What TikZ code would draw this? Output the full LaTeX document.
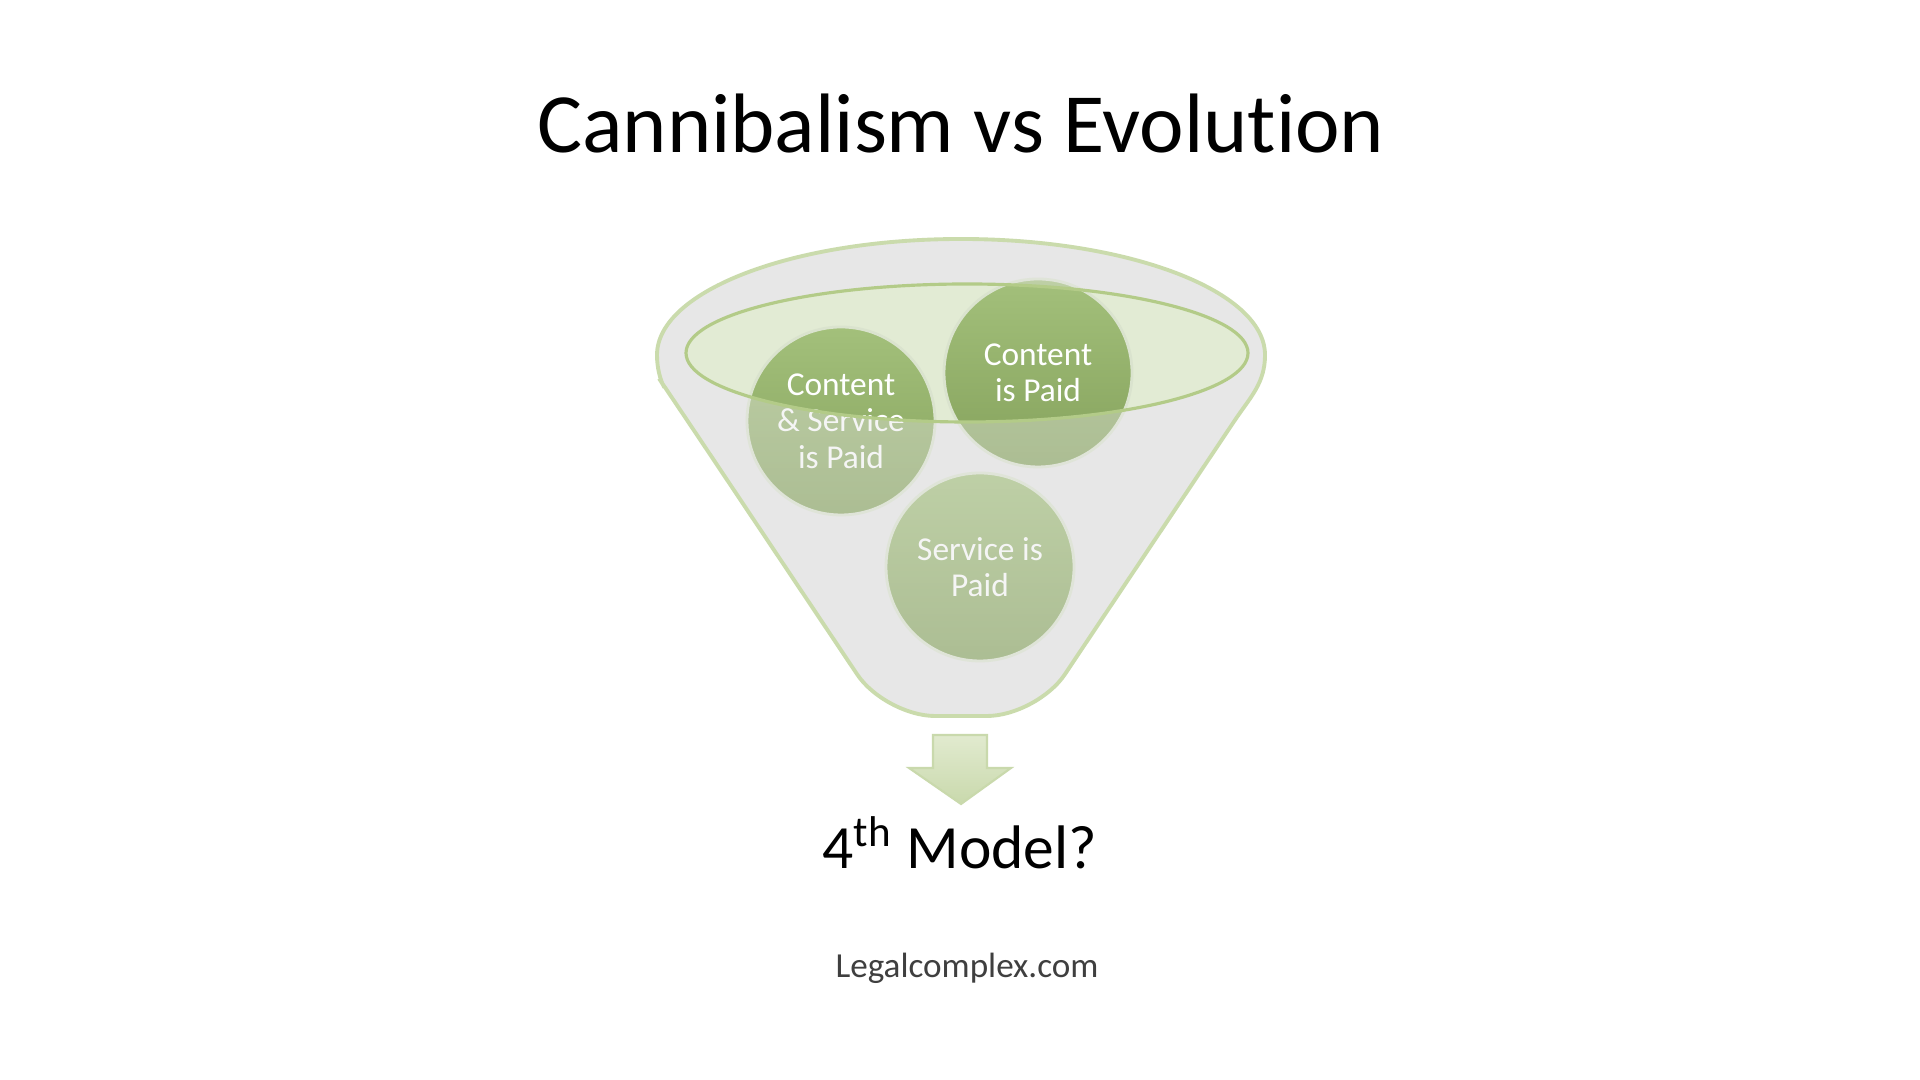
\documentclass[tikz,border=0pt]{standalone}
\usepackage{fontspec}
\setmainfont[Ligatures=NoCommon]{Carlito}
\usepackage{tikz}
\usetikzlibrary{positioning}

\definecolor{balltop}{HTML}{A3C07B}
\definecolor{ballgreen}{HTML}{85A25C}
\definecolor{mouthgreen}{HTML}{E2EBD4}
\definecolor{rimgreen}{HTML}{B3CB88}
\definecolor{glassgrey}{HTML}{E7E7E7}
\definecolor{arrowtop}{HTML}{E1EACF}
\definecolor{arrowbottom}{HTML}{C9D9AC}
\definecolor{sitegrey}{HTML}{3F3F3F}

% outline of the funnel
\newcommand{\funnelbody}{(6.57,7.25) arc[start angle=180, end angle=0, x radius=3.04, y radius=1.16]
	to[out=-90, in=56] (12.35,6.60)
	[rounded corners=0.5cm] -- (10.37,3.64) -- (8.85,3.64) -- (6.87,6.60)
	[sharp corners] to[out=124, in=-90] (6.57,7.25) -- cycle}

\begin{document}
\begin{tikzpicture}[
				ball/.style={
					circle,
					minimum size=1.88cm,
					inner sep=0pt,
					align=center,
					top color=balltop,
					bottom color=ballgreen,
					draw=white!70!ballgreen,
					line width=0.8pt,
					text=white,
					font=\fontsize{9.5}{10.4}\selectfont
				},
				glassback/.style={fill=glassgrey},
				glassfront/.style={fill=glassgrey, fill opacity=0.4},
				blockarrow/.style={top color=arrowtop, bottom color=arrowbottom, draw=arrowbottom, line width=0.6pt}
				]
				
				\fill[white] (0,0) rectangle (19.2,10.8);
				\useasboundingbox (0,0) rectangle (19.2,10.8);
				
				% Title
				\node[anchor=base, font=\fontsize{24}{28}\selectfont] (title) at (9.61,9.27) {Cannibalism vs Evolution};
				
				% Funnel, back
				\fill[glassback] \funnelbody;
				\fill[mouthgreen] (9.67,7.27) ellipse[x radius=2.81, y radius=0.69];
				
				% Balls
				\node[ball] (both) at (8.41,6.59) {Content\\ \& Service\\ is Paid};
				\node[ball] (content) at (10.38,7.07) {Content\\ is Paid};
				\node[ball] (service) at (9.80,5.13) {Service is\\ Paid};
				
				% Funnel, front
				\fill[glassfront, even odd rule] \funnelbody (9.67,7.27) ellipse[x radius=2.81, y radius=0.69];
				\draw[rimgreen, line width=0.9pt] (9.67,7.27) ellipse[x radius=2.81, y radius=0.69];
				\draw[rimgreen!70, line width=1.1pt] \funnelbody;
				
				% Arrow
				\coordinate (spout) at (9.61,3.45);
				\node[anchor=base, font=\fontsize{17.5}{20}\selectfont] (model) at (9.60,2.11) {4\textsuperscript{th} Model?};
				\path[blockarrow, shift={(spout)}] (-0.28,0) -- (0.26,0) -- (0.26,-0.33) -- (0.50,-0.33)
					-- (0,-0.69) -- (-0.52,-0.33) -- (-0.28,-0.33) -- cycle;
				
				\node[anchor=base, font=\fontsize{10}{12}\selectfont, text=sitegrey] (site) at (9.67,1.02) {Legalcomplex.com};
				
			\end{tikzpicture}
\end{document}
